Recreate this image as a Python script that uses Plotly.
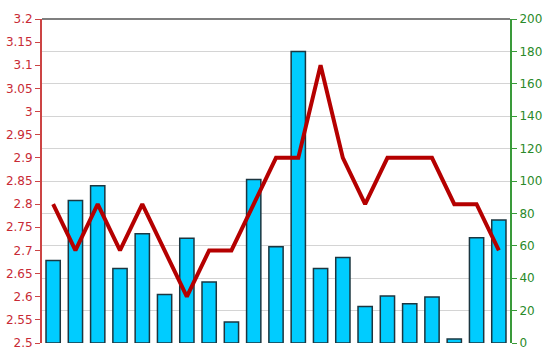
import plotly.graph_objects as go

categories = list(range(1, 22))
bar_values = [51, 88, 97, 46, 67.5, 30, 64.6, 37.7, 13, 101, 59.4, 180, 46, 52.8, 22.6, 29, 24.3, 28.4, 2.5, 65, 76]
line_values = [2.8, 2.7, 2.8, 2.7, 2.8, 2.7, 2.6, 2.7, 2.7, 2.8, 2.9, 2.9, 3.1, 2.9, 2.8, 2.9, 2.9, 2.9, 2.8, 2.8, 2.7]
left_ticks = [2.5, 2.55, 2.6, 2.65, 2.7, 2.75, 2.8, 2.85, 2.9, 2.95, 3.0, 3.05, 3.1, 3.15, 3.2]
left_labels = ["2.5", "2.55", "2.6", "2.65", "2.7", "2.75", "2.8", "2.85", "2.9", "2.95", "3", "3.05", "3.1", "3.15", "3.2"]
right_ticks = [0, 20, 40, 60, 80, 100, 120, 140, 160, 180, 200]

fig = go.Figure()
fig.add_trace(go.Bar(
    x=categories, y=bar_values, yaxis="y",
    marker=dict(color="#00ccff", line=dict(color="#1c3640", width=1.5)),
    width=0.64,
))
fig.add_trace(go.Scatter(
    x=categories, y=line_values, yaxis="y2", mode="lines",
    line=dict(color="#b50000", width=4),
))

fig.update_layout(
    width=550, height=364,
    margin=dict(l=42, r=40, t=19, b=21, autoexpand=False),
    paper_bgcolor="white", plot_bgcolor="white",
    showlegend=False,
    font=dict(family="DejaVu Sans, Verdana, sans-serif", size=12),
    xaxis=dict(range=[0.5, 21.5], showticklabels=False, showgrid=False,
               zeroline=False, showline=False, ticks="", automargin=False),
    yaxis=dict(side="right", range=[0, 200], tickvals=right_ticks,
               showgrid=True, gridcolor="#d4d4d4", gridwidth=1,
               zeroline=False, showline=True, linecolor="#3a9a3a", linewidth=2,
               ticks="outside", ticklen=5, tickcolor="#3a9a3a", automargin=False,
               tickfont=dict(color="#2a8a2a", size=12)),
    yaxis2=dict(side="left", overlaying="y", range=[2.5, 3.2],
                tickvals=left_ticks, ticktext=left_labels,
                showgrid=False, zeroline=False, showline=True,
                linecolor="#cc4444", linewidth=2, automargin=False,
                ticks="outside", ticklen=5, tickcolor="#cc4444",
                tickfont=dict(color="#c82a35", size=12)),
    shapes=[dict(type="line", xref="paper", yref="paper", x0=0, x1=1, y0=1, y1=1,
                 line=dict(color="#555555", width=1.5))],
)

fig.write_html("out.html")
